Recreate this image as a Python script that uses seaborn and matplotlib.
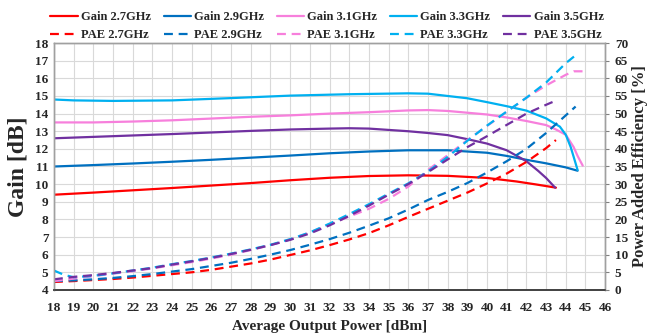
import matplotlib
matplotlib.use("Agg")
import matplotlib.pyplot as plt
from matplotlib.lines import Line2D
import seaborn as sns
import numpy as np

# ---- data ----
freqs = ["2.7GHz", "2.9GHz", "3.1GHz", "3.3GHz", "3.5GHz"]
colors = ["#FF0000", "#0070C0", "#F77FDC", "#00B0F0", "#7030A0"]

gain_x_27 = [18, 20, 22, 24, 26, 28, 30, 32, 34, 36, 38, 40, 41.5, 42.5, 43.5]
gain_y_27 = [9.4, 9.52, 9.65, 9.78, 9.92, 10.06, 10.22, 10.36, 10.46, 10.5, 10.47, 10.35, 10.15, 9.98, 9.8]

gain_x_29 = [18, 20, 22, 24, 26, 28, 30, 32, 34, 36, 38, 40, 41, 42, 43, 44, 44.6]
gain_y_29 = [11.0, 11.08, 11.17, 11.27, 11.38, 11.5, 11.62, 11.75, 11.85, 11.92, 11.92, 11.78, 11.6, 11.38, 11.18, 10.95, 10.76]

gain_x_31 = [18, 20, 22, 24, 26, 28, 30, 32, 34, 36, 37, 38, 40, 41, 42, 43, 43.5, 44, 44.4, 44.6, 44.86]
gain_y_31 = [13.5, 13.5, 13.55, 13.62, 13.72, 13.82, 13.9, 14.0, 14.08, 14.18, 14.2, 14.15, 13.95, 13.78, 13.58, 13.35, 13.1, 12.8, 12.1, 11.6, 11.05]

gain_x_33 = [18, 19, 21, 24, 27, 30, 33, 36, 37, 38, 39, 40, 41, 42, 43, 43.7, 44, 44.25, 44.4, 44.6]
gain_y_33 = [14.8, 14.75, 14.72, 14.75, 14.88, 15.02, 15.1, 15.15, 15.13, 15.0, 14.87, 14.65, 14.42, 14.17, 13.73, 13.26, 12.8, 12.1, 11.55, 10.8]

gain_x_35 = [18, 20, 22, 24, 26, 28, 30, 32, 33, 34, 36, 37, 38, 39, 40, 41, 42, 42.6, 43.0, 43.46]
gain_y_35 = [12.6, 12.68, 12.76, 12.84, 12.93, 13.02, 13.1, 13.15, 13.17, 13.15, 13.0, 12.9, 12.78, 12.55, 12.3, 11.92, 11.3, 10.75, 10.35, 9.8]

pae_x_27 = [18, 19, 20, 21, 22, 23, 24, 25, 26, 27, 28, 29, 30, 31, 32, 33, 34, 35, 36, 37, 38, 39, 40, 41, 42, 43, 43.5]
pae_y_27 = [2.25, 2.5, 2.8, 3.1, 3.5, 4.0, 4.5, 5.0, 5.7, 6.6, 7.5, 8.6, 9.9, 11.2, 12.7, 14.3, 16.1, 18.3, 20.7, 23.0, 25.3, 27.6, 30.2, 33.0, 36.3, 40.2, 42.5]

pae_x_29 = [18, 19, 20, 21, 22, 23, 24, 25, 26, 27, 28, 29, 30, 31, 32, 33, 34, 35, 36, 37, 38, 39, 40, 41, 42, 43, 44, 44.5]
pae_y_29 = [2.5, 2.7, 3.0, 3.4, 3.9, 4.5, 5.2, 5.9, 6.8, 7.7, 8.8, 10.0, 11.3, 12.8, 14.4, 16.2, 18.2, 20.3, 22.8, 25.5, 27.8, 30.3, 33.3, 36.5, 40.0, 44.5, 49.5, 52.0]

pae_x_31 = [18, 19, 20, 21, 22, 23, 24, 25, 26, 27, 28, 29, 30, 31, 32, 33, 34, 35, 36, 37, 38, 39, 40, 41, 42, 43, 44, 44.4, 44.86]
pae_y_31 = [2.5, 3.2, 3.9, 4.6, 5.3, 6.1, 7.0, 7.9, 8.9, 10.0, 11.3, 12.7, 14.3, 16.3, 18.6, 20.8, 23.0, 25.8, 29.3, 34.0, 38.2, 42.5, 46.5, 50.5, 54.5, 58.0, 61.0, 62.0, 62.0]

pae_x_33 = [18, 18.5, 19, 20, 21, 22, 23, 24, 25, 26, 27, 28, 29, 30, 31, 32, 33, 34, 35, 36, 37, 38, 39, 40, 41, 42, 43, 44, 44.6]
pae_y_33 = [5.5, 4.3, 3.6, 4.0, 4.7, 5.5, 6.3, 7.3, 8.2, 9.2, 10.3, 11.5, 12.8, 14.4, 16.3, 18.8, 21.5, 24.3, 27.3, 30.2, 33.6, 37.7, 42.3, 46.6, 50.6, 54.5, 58.8, 64.3, 67.0]

pae_x_35 = [18, 19, 20, 21, 22, 23, 24, 25, 26, 27, 28, 29, 30, 31, 32, 33, 34, 35, 36, 37, 38, 39, 40, 41, 42, 43, 43.46]
pae_y_35 = [3.0, 3.7, 4.2, 4.8, 5.5, 6.2, 7.2, 8.1, 9.1, 10.2, 11.4, 12.7, 14.2, 16.0, 18.3, 21.0, 23.9, 27.0, 30.0, 33.4, 37.0, 40.5, 43.6, 46.8, 50.0, 52.5, 53.6]

gain_series = [(gain_x_27, gain_y_27), (gain_x_29, gain_y_29), (gain_x_31, gain_y_31),
               (gain_x_33, gain_y_33), (gain_x_35, gain_y_35)]
pae_series = [(pae_x_27, pae_y_27), (pae_x_29, pae_y_29), (pae_x_31, pae_y_31),
              (pae_x_33, pae_y_33), (pae_x_35, pae_y_35)]

# ---- style ----
sns.set_style("white")
plt.rcParams["font.family"] = ["Liberation Serif", "DejaVu Serif"]
plt.rcParams["font.weight"] = "bold"

fig = plt.figure(figsize=(6.5, 3.34), dpi=100)
ax = fig.add_axes([0.083, 0.132, 0.848, 0.739])
ax2 = ax.twinx()

dash = (0, (4, 2.6))
handles = []
for f, c, (gx, gy), (px, py) in zip(freqs, colors, gain_series, pae_series):
    sns.lineplot(x=gx, y=gy, ax=ax, color=c, lw=1.6, estimator=None, sort=False, legend=False)
    sns.lineplot(x=px, y=py, ax=ax2, color=c, lw=1.6, estimator=None, sort=False, legend=False)
    ax2.lines[-1].set_linestyle(dash)
    handles.append(Line2D([], [], color=c, lw=1.6, label=f"Gain {f}"))
    handles.append(Line2D([], [], color=c, lw=1.6, ls=dash, label=f"PAE {f}"))

ax.set_xlim(18, 46)
ax.set_ylim(4, 18)
ax2.set_ylim(0, 70)
ax.set_xticks(np.arange(18, 47, 1))
ax.set_yticks(np.arange(4, 19, 1))
ax2.set_yticks(np.arange(0, 71, 5))
ax.grid(True, color="#d9d9d9", lw=0.8)
ax.set_axisbelow(True)

for a in (ax, ax2):
    a.tick_params(labelsize=9.5, length=0, pad=4)
    for lab in a.get_xticklabels() + a.get_yticklabels():
        lab.set_fontweight("bold")
ax.tick_params(axis="x", pad=9)
ax2.tick_params(axis="y", length=3, color="#808080", direction="out")

for a in (ax, ax2):
    for s in ("top", "left", "right"):
        a.spines[s].set_color("#a0a0a0")
        a.spines[s].set_linewidth(1.0)
    a.spines["bottom"].set_color("#404040")
    a.spines["bottom"].set_linewidth(1.2)

ax.set_xlabel("Average Output Power [dBm]", fontsize=11, fontweight="bold", labelpad=4)
ax.set_ylabel("Gain [dB]", fontsize=17, fontweight="bold", labelpad=5)
ax2.set_ylabel("Power Added Efficiency [%]", fontsize=12, fontweight="bold", labelpad=3)

fig.legend(handles=handles, ncol=5, loc="upper center", bbox_to_anchor=(0.503, 1.0),
           frameon=False, handlelength=2.2, handletextpad=0.25,
           columnspacing=1.0, labelspacing=0.45, prop={"weight": "bold", "size": 9})

fig.savefig("out.png", dpi=100)
